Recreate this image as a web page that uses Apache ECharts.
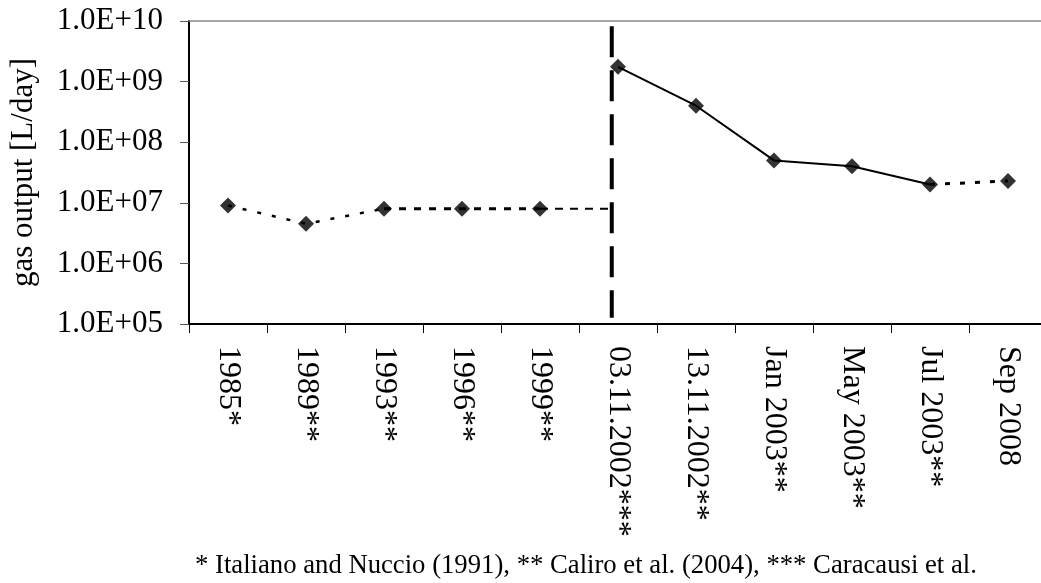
<!DOCTYPE html>
<html>
<head>
<meta charset="utf-8">
<script src="https://cdn.jsdelivr.net/npm/echarts@6/dist/echarts.min.js"></script>
<style>
html,body{margin:0;padding:0;background:#fff;overflow:hidden;}
#chart{width:1060px;height:583px;}
</style>
</head>
<body>
<div id="chart"></div>
<script>
// ---- data ----
const categories = ['1985*','1989**','1993**','1996**','1999**','03.11.2002***','13.11.2002**','Jan 2003**','May 2003**','Jul 2003**','Sep 2008'];
const gasOutput = [9e6, 4.5e6, 8e6, 8e6, 8e6, 1.75e9, 4e8, 5e7, 4e7, 2e7, 2.3e7];
const yTickMin = 1e5;
const yTickMax = 1e10;
// segments of the line (first index, last index)
const segDotted1 = [0, 2];
const segDashed = [2, 4];
const segSolid = [5, 9];
const segDotted2 = [9, 10];
// event marker (eruption) position on a continuous 0..N category scale
const eventPos = 5.42;
const eventSpan = [8.2e9, 1.27e5];
const preEventLevel = 8e6;
const preEventStart = 4.5; // centre of '1999**'
const footnote = '* Italiano and Nuccio (1991), ** Caliro et al. (2004), *** Caracausi et al.';

const FONT = '"Liberation Serif", "Times New Roman", serif';

function segment(range) {
  return gasOutput.map((v, i) => (i >= range[0] && i <= range[1]) ? v : null);
}

const chart = echarts.init(document.getElementById('chart'), null, {renderer: 'canvas'});
const option = {
  animation: false,
  backgroundColor: '#fff',
  grid: {left: 189, top: 21, width: 858, height: 303, containLabel: false},
  xAxis: [
    {
      type: 'category',
      data: categories,
      boundaryGap: true,
      position: 'bottom',
      axisLine: {show: true, lineStyle: {color: '#000', width: 2}},
      axisTick: {show: true, length: 9, lineStyle: {color: '#000', width: 1}},
      axisLabel: {rotate: -90, margin: 22, color: '#000', fontFamily: FONT, fontSize: 32, interval: 0},
      splitLine: {show: false}
    },
    {
      type: 'value',
      min: 0,
      max: categories.length,
      position: 'top',
      axisLine: {show: true, onZero: false, lineStyle: {color: '#888', width: 1.5}},
      axisTick: {show: false},
      axisLabel: {show: false},
      splitLine: {show: false}
    }
  ],
  yAxis: {
    type: 'log',
    logBase: 10,
    min: yTickMin,
    max: yTickMax,
    splitNumber: 5,
    name: 'gas output [L/day]',
    nameLocation: 'middle',
    nameGap: 150,
    nameTextStyle: {color: '#000', fontFamily: FONT, fontSize: 31},
    axisLine: {show: true, lineStyle: {color: '#000', width: 2}},
    axisTick: {show: true, length: 9, lineStyle: {color: '#555', width: 1}},
    axisLabel: {
      margin: 26, color: '#000', fontFamily: FONT, fontSize: 31,
      formatter: v => '1.0E+' + String(Math.round(Math.log10(v))).padStart(2, '0')
    },
    splitLine: {show: false}
  },
  series: [
    {type: 'line', data: segment(segDotted1), symbol: 'none', connectNulls: false,
     lineStyle: {color: '#000', width: 2.5, type: [4, 11]}},
    {type: 'line', data: segment(segDashed), symbol: 'none', connectNulls: false,
     lineStyle: {color: '#000', width: 3, type: [7, 8]}},
    {type: 'line', data: segment(segSolid), symbol: 'none', connectNulls: false,
     lineStyle: {color: '#000', width: 2, type: 'solid'}},
    {type: 'line', data: segment(segDotted2), symbol: 'none', connectNulls: false,
     lineStyle: {color: '#000', width: 3, type: [5, 10]}},
    {type: 'line', xAxisIndex: 1, data: [[preEventStart, preEventLevel], [eventPos, preEventLevel]],
     symbol: 'none', lineStyle: {color: '#000', width: 2, type: [8, 7]}},
    {type: 'line', xAxisIndex: 1, data: [[eventPos, eventSpan[0]], [eventPos, eventSpan[1]]],
     symbol: 'none', lineStyle: {color: '#000', width: 4, type: [31, 13]}},
    {type: 'scatter', data: gasOutput, symbol: 'diamond', symbolSize: 16, z: 10,
     itemStyle: {color: '#000'}}
  ],
  graphic: [
    {type: 'text', left: 195, top: 552,
     style: {text: footnote, fill: '#000', font: '26.7px ' + FONT}}
  ]
};
chart.setOption(option);
</script>
</body>
</html>
